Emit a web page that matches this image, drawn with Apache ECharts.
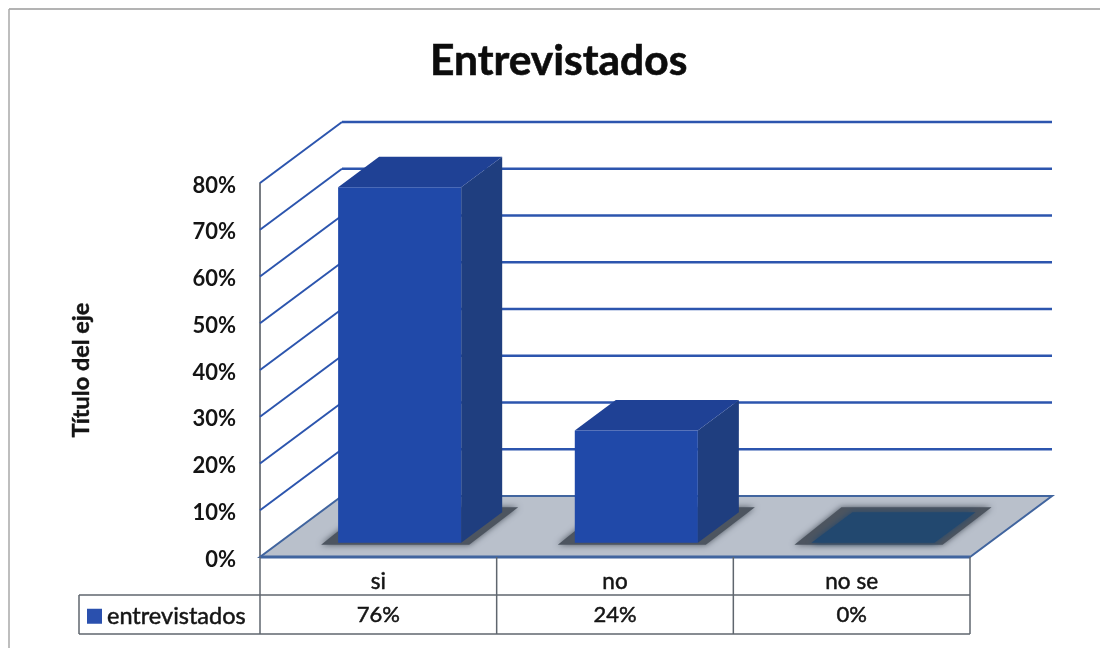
<!DOCTYPE html>
<html>
<head>
<meta charset="utf-8">
<style>html,body{margin:0;padding:0;background:#fff}#chart{width:1100px;height:648px}</style>
<script src="https://cdn.jsdelivr.net/npm/echarts@6/dist/echarts.min.js"></script>
</head>
<body>
<div id="chart"></div>
<script>
// Survey result: share of respondents per answer
const categories = ['si', 'no', 'no se'];
const seriesName = 'entrevistados';
const values = [76, 24, 0];
const yTicks = [0, 10, 20, 30, 40, 50, 60, 70, 80];

// Oblique projection of the depth axis, in pixels
const DEPTH_X = 82;
const DEPTH_Y = 61;
// Bars sit in the middle of the floor depth
const BAR_FRONT_X = 0.26;
const BAR_FRONT_Y = 0.235;
const BAR_DEPTH = 0.5;
const BAR_WIDTH = 0.52;
// Data table row heights below the plot
const ROW_1 = 38;
const ROW_2 = 39;
const LEGEND_CELL = 181;

const FONT = 'Lato, "Open Sans", sans-serif';
const TEXT = '#141414';
const GRID_BLUE = '#2c55ae';
const EDGE_BLUE = '#41659f';
const TABLE_LINE = '#5f666e';
const MEDIUM = { textBorderColor: TEXT, textBorderWidth: 0.5 };

function poly(points, style, z2) {
  return { type: 'polygon', shape: { points }, style, z2: z2 || 0 };
}
function seg(x1, y1, x2, y2, stroke, lineWidth) {
  return { type: 'line', shape: { x1, y1, x2, y2 }, style: { stroke, lineWidth, fill: null } };
}

// Back wall gridlines with their diagonals along the side wall
function renderGrid(params, api) {
  const cs = params.coordSys;
  const y = api.coord([0, api.value(0)])[1];
  const left = cs.x;
  const right = cs.x + cs.width + DEPTH_X;
  if (api.value(0) === 0) return { type: 'group', children: [] };
  return { type: 'group', children: [
    seg(left, y, left + DEPTH_X, y - DEPTH_Y, GRID_BLUE, 2),
    seg(left + DEPTH_X, y - DEPTH_Y, right, y - DEPTH_Y, GRID_BLUE, 2.4)
  ] };
}

// Grey floor parallelogram
function renderFloor(params) {
  const cs = params.coordSys;
  const x0 = cs.x, x1 = cs.x + cs.width, y = cs.y + cs.height;
  return { type: 'group', children: [
    poly([[x0, y], [x1, y], [x1 + DEPTH_X, y - DEPTH_Y], [x0 + DEPTH_X, y - DEPTH_Y]],
      { fill: '#b9c0cb', stroke: EDGE_BLUE, lineWidth: 2 }),
    seg(x0, y, x1, y, EDGE_BLUE, 3.2)
  ] };
}

// Shadow on the floor, then the three visible faces of a bar
function renderBar(params, api) {
  const value = api.value(1);
  const center = api.coord([api.value(0), 0]);
  const top = api.coord([api.value(0), value]);
  const band = api.size([1, 0])[0];
  const w = band * BAR_WIDTH;
  const fx = DEPTH_X * BAR_FRONT_X, fy = DEPTH_Y * BAR_FRONT_Y;
  const dx = DEPTH_X * BAR_DEPTH, dy = DEPTH_Y * BAR_DEPTH;
  const l = center[0] - w / 2 + fx, r = l + w;
  const b = center[1] - fy, t = top[1] - fy;
  const shadowColor = '#4d5560';
  const children = [
    poly([[l - 17, b + 2], [r + 8, b + 2], [r + dx + 16, b - dy - 5], [l + dx - 11, b - dy - 5]],
      { fill: shadowColor, shadowBlur: 6, shadowColor })
  ];
  if (value > 0) {
    children.push(
      poly([[r, t], [r + dx, t - dy], [r + dx, b - dy], [r, b]], { fill: '#1f3e7f' }),
      poly([[l, t], [r, t], [r + dx, t - dy], [l + dx, t - dy]], { fill: '#1f4195' }),
      { type: 'rect', shape: { x: l, y: t, width: w, height: b - t }, style: { fill: '#2049a9' } }
    );
  } else {
    children.push(poly([[l, t], [r, t], [r + dx, t - dy], [l + dx, t - dy]],
      { fill: '#22486f', shadowBlur: 6, shadowColor: '#22486f' }));
  }
  return { type: 'group', children };
}

// Data table grid and the value row below the category names
function renderTable(params, api) {
  const cs = params.coordSys;
  const x0 = cs.x, x1 = cs.x + cs.width, y0 = cs.y + cs.height;
  const y1 = y0 + ROW_1, y2 = y1 + ROW_2;
  const band = cs.width / categories.length;
  const children = [
    seg(x0 - LEGEND_CELL, y1, x1, y1, TABLE_LINE, 1.5),
    seg(x0 - LEGEND_CELL, y2, x1, y2, TABLE_LINE, 1.5),
    seg(x0 - LEGEND_CELL, y1, x0 - LEGEND_CELL, y2, TABLE_LINE, 1.5)
  ];
  for (let i = 0; i <= categories.length; i++) {
    children.push(seg(x0 + band * i, y0, x0 + band * i, y2, TABLE_LINE, 1.5));
  }
  return { type: 'group', children };
}

function renderValueText(params, api) {
  const cs = params.coordSys;
  const x = api.coord([api.value(0), 0])[0];
  const y = cs.y + cs.height + ROW_1 + ROW_2 / 2;
  return { type: 'text', style: {
    x, y, text: api.value(1) + '%', align: 'center', verticalAlign: 'middle',
    fontFamily: FONT, fontSize: 22, fill: TEXT, stroke: TEXT, lineWidth: 0.5
  } };
}

const tickLabelStyle = { fontFamily: FONT, fontSize: 22, fontWeight: 'bold', color: TEXT };

const chart = echarts.init(document.getElementById('chart'), null, { renderer: 'canvas' });
chart.setOption({
  animation: false,
  backgroundColor: '#ffffff',
  title: {
    text: 'Entrevistados', left: 425, top: 35,
    textStyle: { fontFamily: FONT, fontWeight: 'bold', fontSize: 42.5, color: '#0c0c0c', textBorderColor: '#0c0c0c', textBorderWidth: 0.6 }
  },
  legend: {
    data: [seriesName], left: 87, top: 604, padding: 0, itemGap: 0,
    itemWidth: 15, itemHeight: 15, icon: 'rect', selectedMode: false,
    textStyle: Object.assign({ fontFamily: FONT, fontSize: 23.5, color: TEXT }, MEDIUM)
  },
  grid: { left: 260, right: 130, top: 183, bottom: 91 },
  xAxis: {
    type: 'category', data: categories,
    axisLine: { show: false }, axisTick: { show: false },
    axisLabel: Object.assign({ margin: 13, fontFamily: FONT, fontSize: 22.5, color: TEXT }, MEDIUM)
  },
  yAxis: {
    type: 'value', min: 0, max: 80, interval: 10,
    name: 'Título del eje', nameLocation: 'middle', nameGap: 167, nameRotate: 90,
    nameTextStyle: { fontFamily: FONT, fontSize: 23.5, fontWeight: 'bold', color: TEXT, textBorderColor: TEXT, textBorderWidth: 0.4 },
    axisLine: { show: true, lineStyle: { color: '#4b5058', width: 1.5 } },
    axisTick: { show: false }, splitLine: { show: false },
    axisLabel: {
      margin: 24, formatter: '{tick|{value}%}',
      rich: { tick: Object.assign({ padding: [5, 0, 0, 0] }, tickLabelStyle) }
    }
  },
  series: [
    { type: 'custom', name: 'floor', z: 1, silent: true, data: [[0]], renderItem: renderFloor },
    { type: 'custom', name: 'grid', z: 2, silent: true, data: yTicks.map(t => [t]),
      encode: { y: 0 }, renderItem: renderGrid },
    { type: 'custom', name: seriesName, z: 3, itemStyle: { color: '#2a50ae' },
      data: values.map((v, i) => [i, v]), encode: { x: 0, y: 1 }, renderItem: renderBar },
    { type: 'custom', name: 'table', z: 4, silent: true, data: [[0]], renderItem: renderTable },
    { type: 'custom', name: 'tableValues', z: 5, silent: true,
      data: values.map((v, i) => [i, v]), encode: { x: 0, y: 1 }, renderItem: renderValueText }
  ],
  graphic: [
    { type: 'line', silent: true, shape: { x1: 9, y1: 9, x2: 1100, y2: 9 }, style: { stroke: '#9a9a9a', lineWidth: 1.5 } },
    { type: 'line', silent: true, shape: { x1: 9, y1: 9, x2: 9, y2: 648 }, style: { stroke: '#a8a8a8', lineWidth: 1.5 } }
  ]
});
</script>
</body>
</html>
